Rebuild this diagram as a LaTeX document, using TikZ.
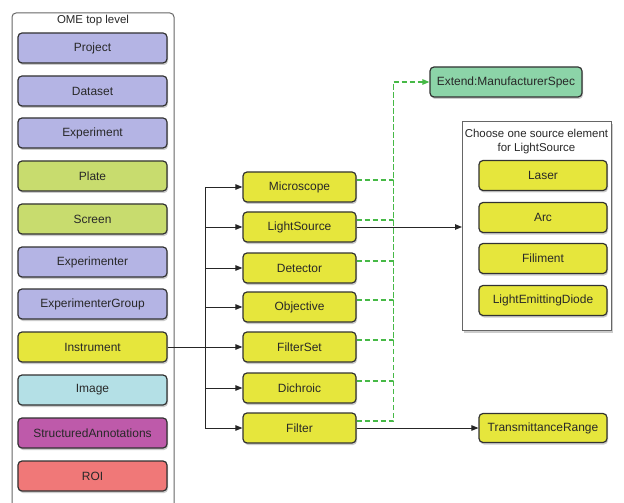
\documentclass[tikz,border=0pt]{standalone}
\usepackage{fontspec}
\setmainfont{Liberation Sans}
\usetikzlibrary{shadows,arrows.meta,calc}
\definecolor{lav}{RGB}{180,180,228}
\definecolor{lime}{RGB}{200,220,110}
\definecolor{yel}{RGB}{230,230,60}
\definecolor{cyanl}{RGB}{180,224,230}
\definecolor{mag}{RGB}{190,90,170}
\definecolor{salmon}{RGB}{240,120,120}
\definecolor{mint}{RGB}{140,212,168}
\definecolor{gdash}{RGB}{70,185,70}
\definecolor{txt}{RGB}{40,40,40}
\definecolor{bord}{RGB}{50,50,50}
\tikzset{
  bx/.style={draw=bord, line width=1.2bp, rounded corners=4bp, minimum height=30bp,
    text=txt, font=\fontsize{12}{14}\selectfont, inner sep=1bp,
    drop shadow={shadow xshift=1bp, shadow yshift=-2bp, opacity=0.4}},
  lbox/.style={bx, minimum width=149bp},
  mbox/.style={bx, fill=yel, minimum width=113bp},
  rbox/.style={bx, fill=yel, minimum width=128bp},
  conn/.style={line width=0.9bp, draw=black!85},
  arr/.style={conn, -{Triangle[length=7bp,width=5.5bp]}},
  gd/.style={draw=gdash, line width=1.2bp, dash pattern=on 5bp off 3bp},
  title/.style={text=txt, font=\fontsize{11.5}{13.5}\selectfont, align=center, inner sep=0pt}
}
\begin{document}
\begin{tikzpicture}[x=1bp,y=-1bp]
\useasboundingbox (0,0) rectangle (624,503);
% left container
\draw[draw=gray!80!black, line width=1bp, fill=white, rounded corners=4bp] (12,13) rectangle (174,515);
\node[title] (ometitle) at (93,21) {OME top level};
\node[lbox, fill=lav] (proj) at (92.5,48) {Project};
\node[lbox, fill=lav] (dset) at (92.5,91) {Dataset};
\node[lbox, fill=lav] (expt) at (92.5,133) {Experiment};
\node[lbox, fill=lime] (plate) at (92.5,176) {Plate};
\node[lbox, fill=lime] (screen) at (92.5,219) {Screen};
\node[lbox, fill=lav] (exper) at (92.5,262) {Experimenter};
\node[lbox, fill=lav] (egroup) at (92.5,304) {ExperimenterGroup};
\node[lbox, fill=yel] (instr) at (92.5,347) {Instrument};
\node[lbox, fill=cyanl] (image) at (92.5,390) {Image};
\node[lbox, fill=mag] (sann) at (92.5,433) {StructuredAnnotations};
\node[lbox, fill=salmon] (roi) at (92.5,476) {ROI};
% middle boxes
\node[mbox] (mic) at (299.5,187) {Microscope};
\node[mbox] (ls) at (299.5,227) {LightSource};
\node[mbox] (det) at (299.5,268) {Detector};
\node[mbox] (obj) at (299.5,307) {Objective};
\node[mbox] (fset) at (299.5,347) {FilterSet};
\node[mbox] (dich) at (299.5,388) {Dichroic};
\node[mbox] (filt) at (299.5,428) {Filter};
% extension
\node[bx, fill=mint, minimum width=152bp] (ext) at (506,82) {Extend:ManufacturerSpec};
% choose container
\draw[draw=gray!80!black, line width=1bp, fill=white,
  drop shadow={shadow xshift=1.5bp, shadow yshift=-2.5bp, opacity=0.4}] (462,122) rectangle (611,330);
\coordinate (choose) at (462,227);
\node[title] (choosetitle) at (536.5,141.5) {Choose one source element\\for LightSource};
\node[rbox] (laser) at (543,175.5) {Laser};
\node[rbox] (arc) at (543,217.5) {Arc};
\node[rbox] (fil) at (543,258.5) {Filiment};
\node[rbox] (led) at (543,300.5) {LightEmittingDiode};
\node[rbox, minimum height=29bp] (trange) at (543,428) {TransmittanceRange};
% trunk connectors
\coordinate (tr) at (205,0);
\draw[conn] (tr |- mic.west) -- (tr |- filt.west);
\draw[conn] (instr.east) -- (tr |- instr.east);
\foreach \b in {mic,ls,det,obj,fset,dich,filt}{
  \draw[arr] (tr |- \b.west) -- (\b.west);
}
% green dashed
\coordinate (dv) at (393.5,0);
\foreach \b in {mic,ls,det,obj,fset,dich,filt}{
  \draw[gd] ([yshift=7bp]\b.east) -| (dv |- ext.west);
}
\draw[gd, -{Triangle[length=7bp,width=5.5bp]}] (dv |- ext.west) -- (ext.west);
% solid to right
\draw[arr] (ls.east) -- (choose);
\draw[arr] (filt.east) -- (trange.west);
\end{tikzpicture}
\end{document}
